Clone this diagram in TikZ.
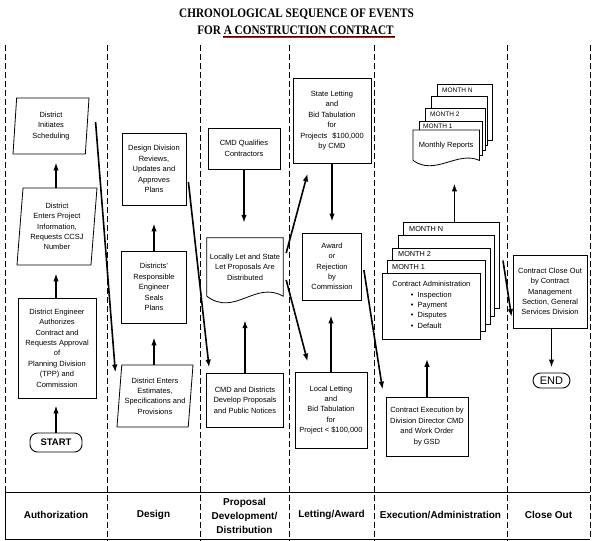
\documentclass[tikz,border=0pt]{standalone}
\usepackage{fontspec}
\setmainfont{Liberation Sans}
\newfontfamily\titlefont{Liberation Serif}
\usetikzlibrary{shapes.geometric,arrows.meta}

\tikzset{
  flowbox/.style={draw, line width=0.8pt, align=center, inner sep=1pt, font=\fontsize{7.5}{10.4}\selectfont},
  para/.style={flowbox, trapezium, trapezium left angle=83, trapezium right angle=97, trapezium stretches body},
  sheet/.style={draw, line width=0.8pt, fill=white, anchor=north west, inner sep=0pt},
  monthtext/.style={anchor=west, inner sep=0pt, font=\fontsize{7.3}{8}\selectfont},
  term/.style={draw, line width=0.9pt, rounded corners=7.5pt, inner sep=0pt},
  flow/.style={-{Latex[length=8pt,width=5.5pt]}, line width=1.6pt},
  lane/.style={line width=0.8pt, dash pattern=on 6pt off 3pt},
  phase/.style={align=center, font=\fontsize{10}{14}\selectfont\bfseries},
}

\begin{document}
\begin{tikzpicture}[x=1pt,y=1pt,yscale=-1,xscale=1]
\useasboundingbox (0,0) rectangle (592,541);
% title
\node[font=\titlefont\bfseries\fontsize{13}{15}\selectfont, inner sep=0pt] (title1) at (296.5,14.5) {\scalebox{0.865}[1]{CHRONOLOGICAL SEQUENCE OF EVENTS}};
\node[font=\titlefont\bfseries\fontsize{13}{15}\selectfont, inner sep=0pt] (title2) at (295.5,30) {\scalebox{0.865}[1]{FOR A CONSTRUCTION CONTRACT}};
\draw [line width=0.5pt] (223,36.4) -- (395,36.4);
\draw [red, line width=0.9pt] (223,37.6) -- (395,37.6);
% lanes
\draw [lane] (5,45) -- (5,492);
\draw [line width=0.8pt] (5,492) -- (5,539);
\draw [lane] (107,45) -- (107,541);
\draw [lane] (200,45) -- (200,541);
\draw [lane] (289,45) -- (289,541);
\draw [lane] (374,45) -- (374,541);
\draw [lane] (507,45) -- (507,541);
\draw [lane] (590,45) -- (590,539);
\draw [line width=0.9pt] (5,492) -- (590,492);
\draw [line width=0.9pt] (5,539) -- (590,539);
\node[phase] (authlbl) at (56,515) {Authorization};
\node[phase] (designlbl) at (153.5,515) {Design};
\node[phase] (proplbl) at (244.5,516) {Proposal\\Development/\\Distribution};
\node[phase] (letlbl) at (331.5,515) {Letting/Award};
\node[phase] (execlbl) at (440.5,515) {Execution/Administration};
\node[phase] (closelbl) at (548.5,515) {Close Out};

% authorization
\node[para, minimum width=76pt, minimum height=56pt] (sched) at (51,126) {District\\Initiates\\Scheduling};
\node[para, minimum width=80pt, minimum height=77pt] (enterinfo) at (57,226.5) {District\\Enters Project\\Information,\\Requests CCSJ\\Number};
\node[flowbox, minimum width=78pt, minimum height=100pt] (authorize) at (57,348) {District Engineer\\Authorizes\\Contract and\\Requests Approval\\of\\Planning Division\\(TPP) and\\Commission};
\node[term, minimum width=52pt, minimum height=19pt, font=\fontsize{9.5}{10}\selectfont\bfseries] (start) at (56,442.5) {START};
\draw [flow, shorten >=7pt] (start.north) -- (start.north |- authorize.south);
\draw [flow, shorten >=8pt] (authorize.north -| start.north) -- (enterinfo.south -| start.north);
\draw [flow, shorten >=8pt] (enterinfo.north -| start.north) -- (sched.south -| start.north);

% design
\node[flowbox, minimum width=64pt, minimum height=72pt] (review) at (154,169) {Design Division\\Reviews,\\Updates and\\Approves\\Plans};
\node[flowbox, minimum width=65pt, minimum height=72pt] (seals) at (154,287) {Districts'\\Responsible\\Engineer\\Seals\\Plans};
\node[para, minimum width=76pt, minimum height=62pt] (estimates) at (155,396) {District Enters\\Estimates,\\Specifications and\\Provisions};
\draw [flow, shorten >=14pt] (estimates.north -| seals.south) -- (seals.south);
\draw [flow, shorten >=18pt] (seals.north) -- (review.south);
\draw [flow] ([shift={(8,-4)}]sched.right side) -- ([shift={(-6,8)}]estimates.top left corner);

% proposal development / distribution
\node[flowbox, minimum width=72pt, minimum height=41pt] (qualify) at (244,148.5) {CMD Qualifies\\Contractors};
\node[align=center, inner sep=0pt, minimum width=76pt, minimum height=58pt, font=\fontsize{7.5}{10.4}\selectfont] (distrib) at (245,267) {Locally Let and State\\Let Proposals Are\\Distributed};
\draw [line width=0.8pt] (distrib.north west) -- (distrib.north east) -- (distrib.south east) .. controls +(-28,-16) and +(28,21) .. (distrib.south west) -- cycle;
\node[flowbox, minimum width=77pt, minimum height=54pt] (develop) at (245,400) {CMD and Districts\\Develop Proposals\\and Public Notices};
\draw [flow, shorten >=15pt] (qualify.south) -- (qualify.south |- distrib.north);
\draw [flow, shorten >=24pt] (develop.north) -- (develop.north |- distrib.south);
\draw [flow] ([shift={(2,13)}]review.east) -- ([shift={(3,-5)}]develop.north west);

% letting / award
\node[flowbox, minimum width=78pt, minimum height=85pt] (state) at (332,120.5) {State Letting\\and\\Bid Tabulation\\for\\Projects\hspace{5pt}\$100,000\\by CMD};
\node[flowbox, minimum width=59pt, minimum height=67pt] (award) at (332,266.5) {Award\\or\\Rejection\\by\\Commission};
\node[flowbox, minimum width=72pt, minimum height=76pt] (local) at (331,410) {Local Letting\\and\\Bid Tabulation\\for\\Project < \$100,000};
\draw [flow, shorten >=11pt] (state.south) -- (state.south |- award.north);
\draw [flow, shorten >=15pt] (local.north) -- (local.north |- award.south);
\draw [flow] ([shift={(3,-14)}]distrib.east) -- ([shift={(15,10)}]state.south west);
\draw [flow] ([shift={(3,13)}]distrib.east) -- ([shift={(13,-10)}]local.north west);

% execution / administration
\node[sheet, minimum width=55pt, minimum height=56pt] (reportN) at (437,84) {};
\node[monthtext, font=\fontsize{6.5}{7}\selectfont] (reportNlbl) at (442,90) {MONTH N};
\node[sheet, minimum width=56pt, minimum height=49pt] (reportB) at (431,96) {};
\node[sheet, minimum width=60pt, minimum height=42pt] (report2) at (425,108) {};
\node[monthtext, font=\fontsize{6.5}{7}\selectfont] (report2lbl) at (430,114) {MONTH 2};
\node[sheet, minimum width=63pt, minimum height=34pt] (report1) at (419,121) {};
\node[monthtext, font=\fontsize{6.5}{7}\selectfont] (report1lbl) at (423,126) {MONTH 1};
\node[inner sep=0pt, minimum width=66pt, minimum height=30pt, anchor=north west] (report) at (413,130) {};
\draw [line width=0.8pt, fill=white] (report.north west) -- (report.north east) -- (report.south east) .. controls +(-22,-10) and +(22,16) .. (report.south west) -- cycle;
\node[font=\fontsize{7.5}{10.4}\selectfont] (reporttext) at (report.center) {Monthly Reports};

\node[sheet, minimum width=96.4pt, minimum height=86pt] (adminN) at (402.8,222.2) {};
\node[monthtext] (adminNlbl) at (409,228.7) {MONTH N};
\node[sheet, minimum width=96.8pt, minimum height=81pt] (adminB) at (397.6,234.9) {};
\node[sheet, minimum width=97.2pt, minimum height=76pt] (admin2) at (392.4,247.6) {};
\node[monthtext] (admin2lbl) at (398,254) {MONTH 2};
\node[sheet, minimum width=97.6pt, minimum height=71pt] (admin1) at (387.2,260.3) {};
\node[monthtext] (admin1lbl) at (392,266.7) {MONTH 1};
\node[flowbox, fill=white, anchor=north west, minimum width=98pt, minimum height=66pt] (cadmin) at (382,273) {Contract Administration\\
  \begin{tabular}[t]{@{}l@{}}
  \textbullet\hspace{4pt}Inspection\\
  \textbullet\hspace{4pt}Payment\\
  \textbullet\hspace{4pt}Disputes\\
  \textbullet\hspace{4pt}Default
  \end{tabular}};
\node[flowbox, minimum width=82pt, minimum height=59pt] (execute) at (427,426.5) {Contract Execution by\\Division Director CMD\\and Work Order\\by GSD};
\draw [flow, shorten >=19pt] (execute.north) -- (execute.north |- cadmin.south);
\draw [flow, shorten >=23pt] ([xshift=3pt]adminN.north) -- ([xshift=3pt]adminN.north |- report.south);
\draw [flow] ([shift={(2,3.5)}]award.east) -- ([shift={(-3,-7)}]execute.north west);

% close out
\node[flowbox, minimum width=74pt, minimum height=73pt] (closeout) at (550,291.5) {Contract Close Out\\by Contract\\Management\\Section, General\\Services Division};
\node[term, minimum width=37pt, minimum height=15pt, font=\fontsize{11}{12}\selectfont] (finish) at (551.5,380.5) {END};
\draw [flow, shorten >=5pt] (closeout.south -| finish.north) -- (finish.north);
\draw [flow] ([shift={(3,-5)}]adminN.east) -- ([shift={(-1,25.5)}]closeout.west);
\end{tikzpicture}
\end{document}
